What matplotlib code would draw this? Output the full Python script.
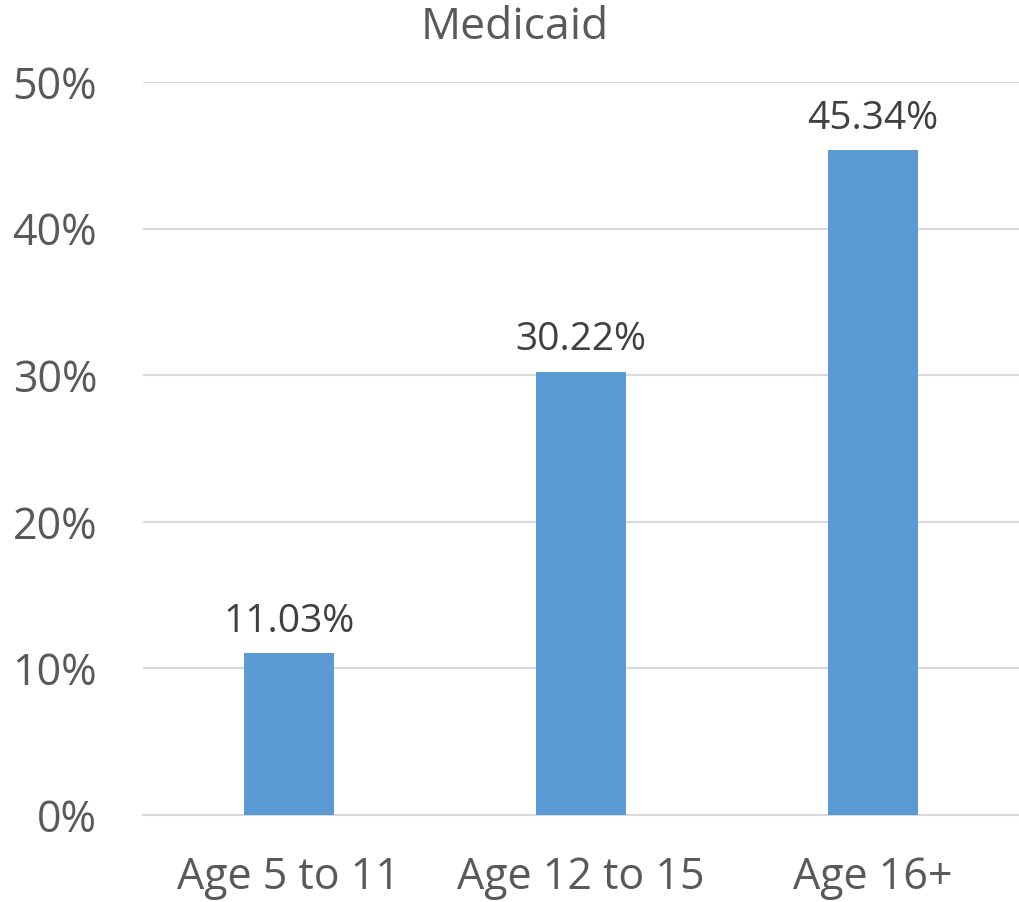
import matplotlib
matplotlib.use("Agg")
import matplotlib.pyplot as plt
from matplotlib.ticker import FuncFormatter

categories = ["Age 5 to 11", "Age 12 to 15", "Age 16+"]
values = [11.03, 30.22, 45.34]
yticks = [0, 10, 20, 30, 40, 50]
title = "Medicaid"

plt.rcParams['font.family'] = ['Open Sans', 'DejaVu Sans']

fig = plt.figure(figsize=(10.2, 9.02), dpi=100)
ax = fig.add_axes([143/1020, 1-815/902, (1019-143)/1020, (815-82)/902])

x = list(range(len(categories)))
bars = ax.bar(x, values, width=0.31, color="#5B9BD5", zorder=3)
for xi, v in zip(x, values):
    ax.annotate(f"{v:.2f}%", (xi, v), xytext=(0, 9), textcoords="offset points",
                ha="center", va="bottom", fontsize=28, color="#404040")

ax.set_xlim(-0.5, len(categories) - 0.5)
ax.set_ylim(0, 50)
ax.set_yticks(yticks)
ax.yaxis.set_major_formatter(FuncFormatter(lambda v, p: f"{v:.0f}%"))
ax.set_xticks(x)
ax.set_xticklabels(categories)
ax.grid(axis="y", color="#D9D9D9", linewidth=1.5, zorder=0)
for s in ["top", "right", "left"]:
    ax.spines[s].set_visible(False)
ax.spines["bottom"].set_color("#D9D9D9")
ax.spines["bottom"].set_linewidth(1.5)
ax.tick_params(axis="both", length=0, labelsize=31, colors="#595959")
ax.tick_params(axis="y", pad=33)
ax.tick_params(axis="x", pad=29)

fig.text(515/1020, 1-28/902, title, ha="center", va="center", fontsize=32, color="#595959")

fig.savefig("out.png", dpi=100)
